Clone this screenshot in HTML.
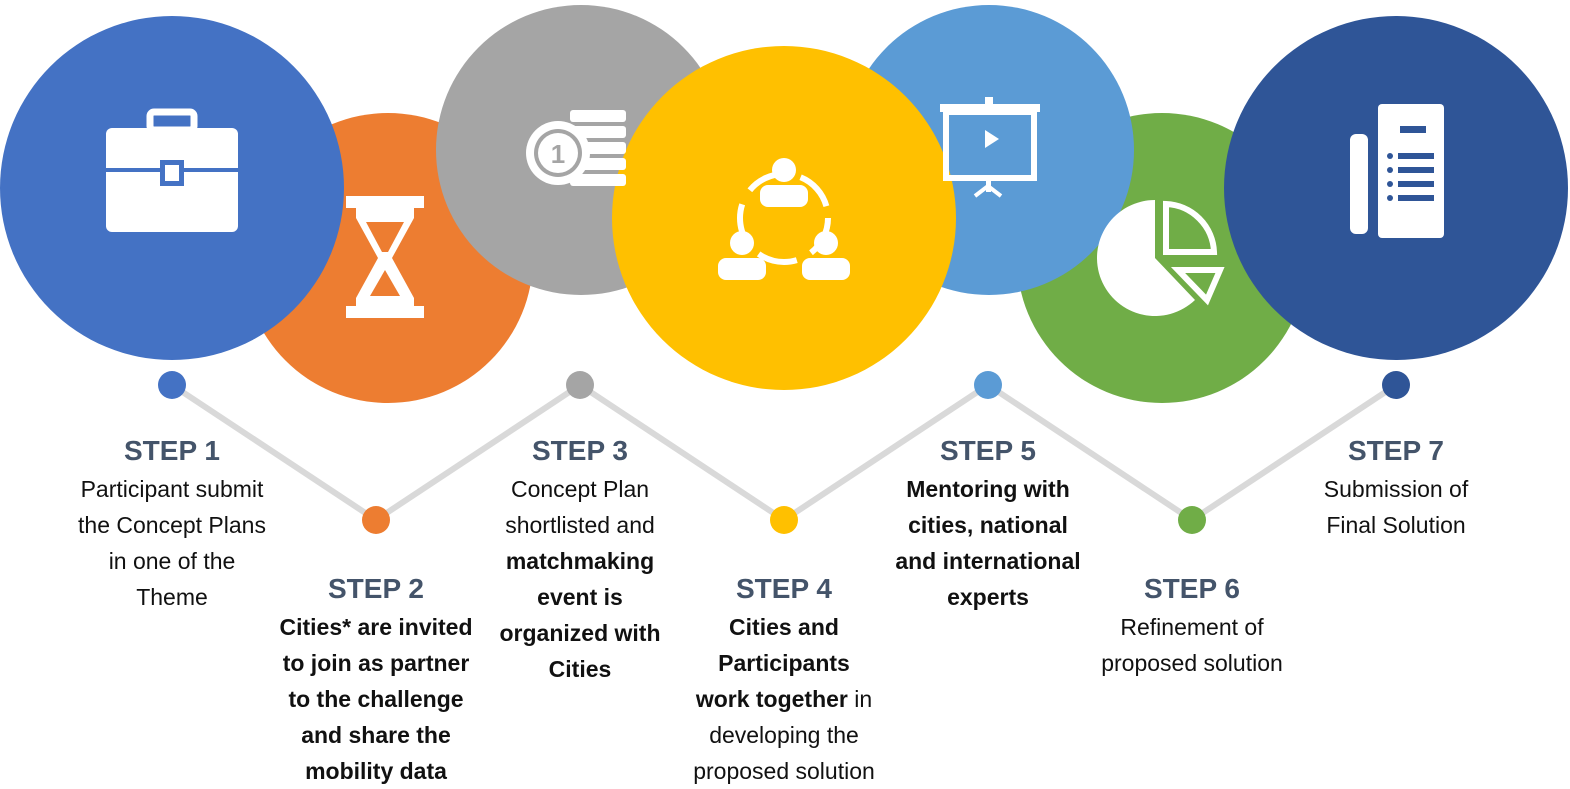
<!DOCTYPE html>
<html><head><meta charset="utf-8"><style>
body{margin:0;width:1570px;height:789px;background:#fff;overflow:hidden;font-family:"Liberation Sans",sans-serif}
svg{position:absolute;left:0;top:0}
.t{position:absolute;text-align:center;width:250px;font-size:23px;line-height:36px;color:#111}
.h{font-weight:bold;font-size:28px;color:#44546A;line-height:36px;margin-bottom:2px}
b{font-weight:bold}
</style></head><body>
<svg width="1570" height="789">
<g>
<circle cx="388" cy="258" r="145" fill="#ED7D31"/>
<circle cx="1162" cy="258" r="145" fill="#70AD47"/>
<circle cx="581" cy="150" r="145" fill="#A5A5A5"/>
<circle cx="989" cy="150" r="145" fill="#5B9BD5"/>
<circle cx="172" cy="188" r="172" fill="#4472C4"/>
<circle cx="1396" cy="188" r="172" fill="#2F5597"/>
<circle cx="784" cy="218" r="172" fill="#FFC000"/>
</g>
<g fill="#fff">
<g>
<rect x="150" y="112" width="44" height="18" rx="4" fill="none" stroke="#fff" stroke-width="7"/>
<rect x="106" y="128" width="132" height="104" rx="6"/>
<rect x="106" y="168" width="132" height="4" fill="#4472C4"/>
<rect x="160" y="160" width="24" height="26" fill="#4472C4"/><rect x="165" y="165" width="14" height="16"/>
</g>
<g>
<rect x="346" y="196" width="78" height="12"/><rect x="346" y="306" width="78" height="12"/>
<path d="M356 208 L414 208 L414 218 L392 258 L414 298 L414 306 L356 306 L356 298 L378 258 L356 218Z"/>
<path d="M366 222 L404 222 L388 252 L382 252Z" fill="#ED7D31"/>
<path d="M385 270 L400 296 L370 296Z" fill="#ED7D31"/>
</g>
<g>
<rect x="570" y="110" width="56" height="12" rx="3"/><rect x="570" y="126" width="56" height="12" rx="3"/><rect x="570" y="142" width="56" height="12" rx="3"/><rect x="570" y="158" width="56" height="12" rx="3"/><rect x="570" y="174" width="56" height="12" rx="3"/>
<circle cx="558" cy="153" r="32"/><circle cx="558" cy="153" r="24" fill="#A5A5A5"/><circle cx="558" cy="153" r="20"/>
<text x="558" y="163" font-size="26" font-weight="bold" text-anchor="middle" fill="#A5A5A5" font-family="Liberation Sans">1</text>
</g>
<g>
<circle cx="784" cy="218" r="44" fill="none" stroke="#fff" stroke-width="6" stroke-dasharray="40 16"/>
<circle cx="784" cy="170" r="12"/><rect x="760" y="185" width="48" height="22" rx="8"/>
<circle cx="742" cy="243" r="12"/><rect x="718" y="258" width="48" height="22" rx="8"/>
<circle cx="826" cy="243" r="12"/><rect x="802" y="258" width="48" height="22" rx="8"/>
</g>
<g>
<rect x="985" y="97" width="8" height="10"/><rect x="940" y="104" width="100" height="8"/>
<rect x="946" y="112" width="88" height="66" fill="none" stroke="#fff" stroke-width="6"/>
<path d="M985 130 L999 139 L985 148Z"/>
<rect x="986" y="178" width="5" height="14"/><path d="M975 196 L988 186 L1001 196" fill="none" stroke="#fff" stroke-width="4"/>
</g>
<g>
<path d="M1155 200 L1155 258 L1195 300 A58 58 0 1 1 1155 200Z"/>
<path d="M1166 204 A50 50 0 0 1 1214 252 L1166 252Z" fill="none" stroke="#fff" stroke-width="6"/>
<path d="M1178 270 L1220 270 L1207 300Z" fill="none" stroke="#fff" stroke-width="6"/>
</g>
<g>
<rect x="1378" y="104" width="66" height="134" rx="4"/>
<rect x="1350" y="134" width="18" height="100" rx="6"/>
<rect x="1400" y="126" width="26" height="7" fill="#2F5597"/>
<g fill="#2F5597"><circle cx="1390" cy="156" r="3"/><rect x="1398" y="153" width="36" height="6"/><circle cx="1390" cy="170" r="3"/><rect x="1398" y="167" width="36" height="6"/><circle cx="1390" cy="184" r="3"/><rect x="1398" y="181" width="36" height="6"/><circle cx="1390" cy="198" r="3"/><rect x="1398" y="195" width="36" height="6"/></g>
</g>
</g>
<polyline points="172,385 376,520 580,385 784,520 988,385 1192,520 1396,385" fill="none" stroke="#D9D9D9" stroke-width="6"/>
<g>
<circle cx="172" cy="385" r="14" fill="#4472C4"/>
<circle cx="376" cy="520" r="14" fill="#ED7D31"/>
<circle cx="580" cy="385" r="14" fill="#A5A5A5"/>
<circle cx="784" cy="520" r="14" fill="#FFC000"/>
<circle cx="988" cy="385" r="14" fill="#5B9BD5"/>
<circle cx="1192" cy="520" r="14" fill="#70AD47"/>
<circle cx="1396" cy="385" r="14" fill="#2F5597"/>
</g>
</svg>
<div class="t" style="left:47px;top:433px"><div class="h">STEP 1</div>Participant submit<br>the Concept Plans<br>in one of the<br>Theme</div>
<div class="t" style="left:251px;top:571px"><div class="h">STEP 2</div><b>Cities* are invited<br>to join as partner<br>to the challenge<br>and share the<br>mobility data</b></div>
<div class="t" style="left:455px;top:433px"><div class="h">STEP 3</div>Concept Plan<br>shortlisted and<br><b>matchmaking<br>event is<br>organized with<br>Cities</b></div>
<div class="t" style="left:659px;top:571px"><div class="h">STEP 4</div><b>Cities and<br>Participants<br>work together</b> in<br>developing the<br>proposed solution</div>
<div class="t" style="left:863px;top:433px"><div class="h">STEP 5</div><b>Mentoring with<br>cities, national<br>and international<br>experts</b></div>
<div class="t" style="left:1067px;top:571px"><div class="h">STEP 6</div>Refinement of<br>proposed solution</div>
<div class="t" style="left:1271px;top:433px"><div class="h">STEP 7</div>Submission of<br>Final Solution</div>
</body></html>
